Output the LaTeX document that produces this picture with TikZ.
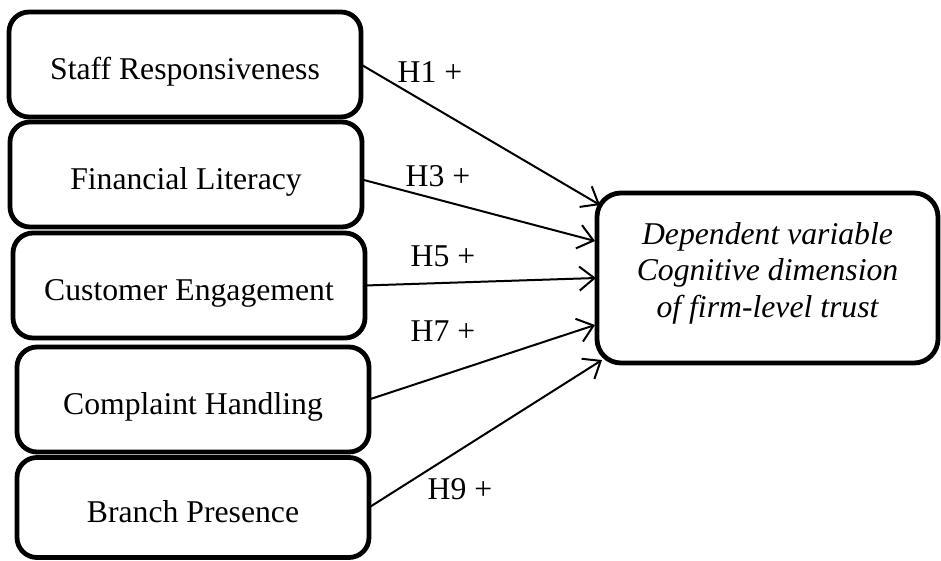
\documentclass[tikz,border=0pt]{standalone}
\usepackage{fontspec}
\setmainfont{Liberation Serif}
\usetikzlibrary{arrows.meta}
\begin{document}
\begin{tikzpicture}[x=1pt,y=-1pt,
  every node/.style={font=\fontsize{31.7}{36.5}\selectfont, inner sep=0pt, outer sep=0pt},
  factor/.style={draw, line width=4.8pt, rounded corners=20pt, minimum width=352pt, minimum height=105pt,
                 text height=30pt, text depth=0pt},
  outcome/.style={draw, line width=4.8pt, rounded corners=24pt, minimum width=341pt, minimum height=170pt},
  outcometext/.style={align=center, font=\fontsize{31.7}{36.5}\selectfont\itshape},
  link/.style={line width=2pt, -{Straight Barb[length=15pt,width=24pt,line width=2pt]}},
  hyp/.style={anchor=center}
]
\useasboundingbox (0,0) rectangle (941,560);

% independent variables
\node[factor] (s1) at (185,64.5) {Staff Responsiveness};
\node[factor] (s2) at (186,174.5) {Financial Literacy};
\node[factor] (s3) at (189,285.5) {Customer Engagement};
\node[factor] (s4) at (193,399.5) {Complaint Handling};
\node[factor, minimum height=100pt] (s5) at (193,507.5) {Branch Presence};

% dependent variable
\node[outcome] (dv) at (767.5,278) {};
\node[outcometext] (dvtext) at ([yshift=5pt]dv.center) {Dependent variable\\ Cognitive dimension\\ of firm-level trust};

% arrow tips on the border of the dependent-variable box
\coordinate (e1) at (600,205);
\coordinate (e3) at (595,241);
\coordinate (e5) at (596,278);
\coordinate (e7) at (595,325);
\coordinate (e9) at (602,360);

\draw[link] (s1.east) -- (e1);
\draw[link] ([yshift=-5pt]s2.east) -- (e3);
\draw[link] (s3.east) -- (e5);
\draw[link] (s4.east) -- (e7);
\draw[link] (s5.east) -- (e9);

% hypothesis labels
\node[hyp] (h1) at (430,72) {H1 +};
\node[hyp] (h3) at (438,176) {H3 +};
\node[hyp] (h5) at (443,256) {H5 +};
\node[hyp] (h7) at (443,331) {H7 +};
\node[hyp] (h9) at (460,489) {H9 +};
\end{tikzpicture}
\end{document}
